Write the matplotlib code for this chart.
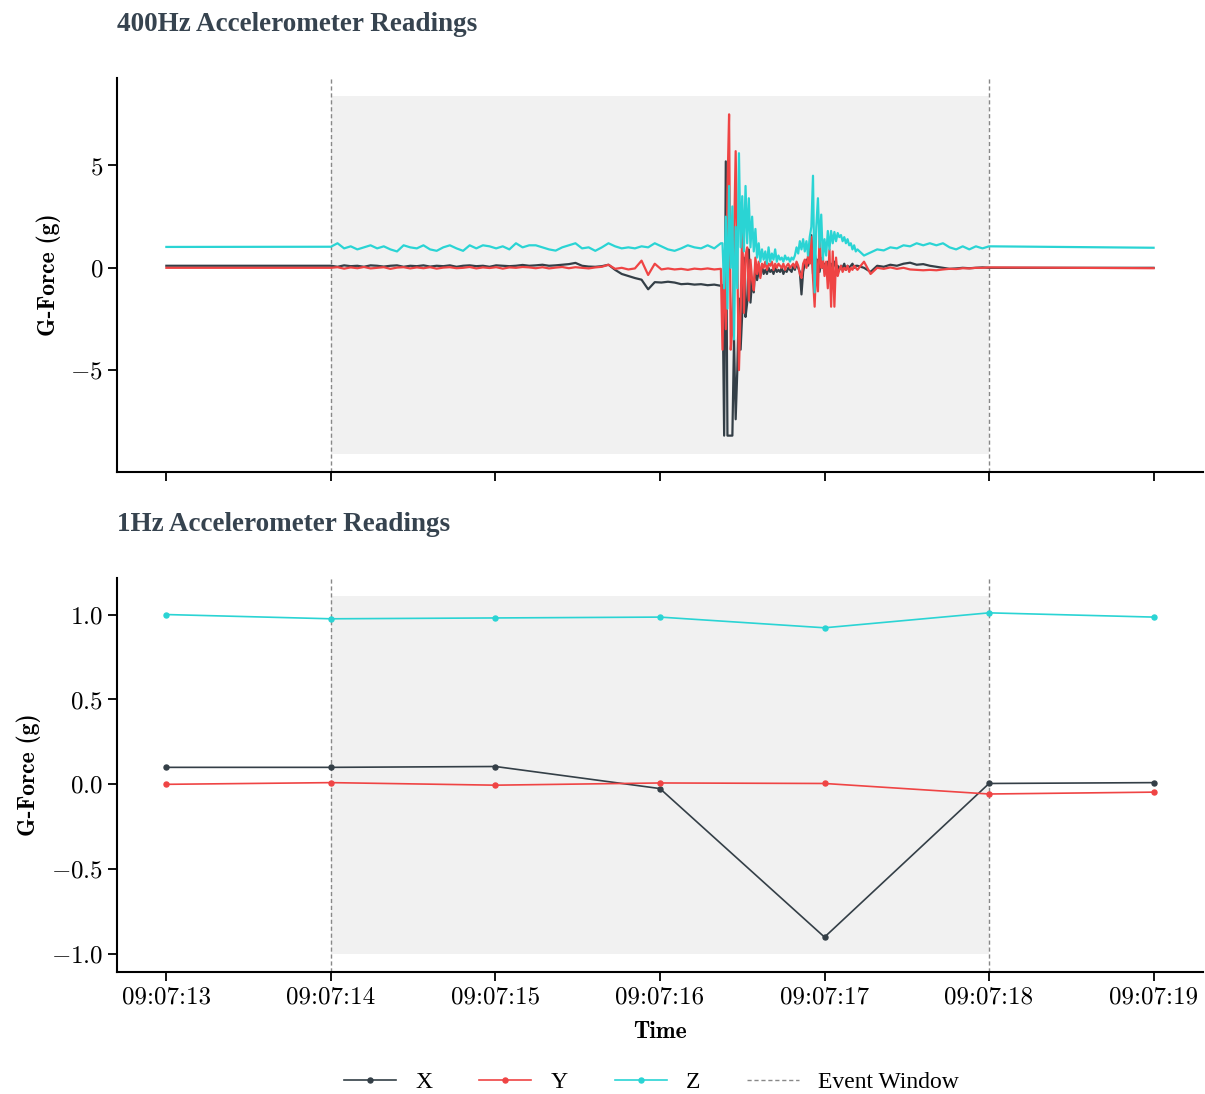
import numpy as np
import matplotlib
matplotlib.use("Agg")
import matplotlib.pyplot as plt
from matplotlib.lines import Line2D

plt.rcParams['font.family'] = 'cmr10'
plt.rcParams['mathtext.fontset'] = 'cm'
plt.rcParams['axes.formatter.use_mathtext'] = True

# colours
C_X = '#343f47'
C_Y = '#ef4444'
C_Z = '#2ad4d4'
C_TITLE = '#36434f'

# time axis (seconds past 09:07:00)
tick_secs = [13, 14, 15, 16, 17, 18, 19]
tick_labels = ['09:07:13', '09:07:14', '09:07:15', '09:07:16',
               '09:07:17', '09:07:18', '09:07:19']
event_start, event_end = 14, 18

# ---------------- 1Hz readings ----------------
t_1hz = [13, 14, 15, 16, 17, 18, 19]
x_1hz = [0.10, 0.10, 0.105, -0.025, -0.90, 0.005, 0.01]
y_1hz = [0.0, 0.01, -0.005, 0.008, 0.005, -0.057, -0.046]
z_1hz = [1.0, 0.975, 0.98, 0.985, 0.922, 1.01, 0.985]

# ---------------- 400Hz readings ----------------
# edges outside the event window
t_edges = [13, 19]
x_edges = [0.10, 0.0]
y_edges = [0.0, -0.02]
z_edges = [1.02, 0.98]

# quiet part 14.00 -> 16.37 s
x_a = [0.1, 0.05, 0.12, 0.08, 0.1, 0.05, 0.12, 0.1, 0.06, 0.1,
       0.12, 0.05, 0.1, 0.08, 0.12, 0.06, 0.1, 0.08, 0.12, 0.05,
       0.1, 0.12, 0.08, 0.1, 0.05, 0.12, 0.1, 0.08, 0.1, 0.14,
       0.1, 0.12, 0.15, 0.1, 0.12, 0.15, 0.18, 0.24, 0.1, 0.06,
       0.05, 0.08, 0.15, -0.1, -0.3, -0.4, -0.5, -0.58, -1.05, -0.7,
       -0.72, -0.68, -0.72, -0.8, -0.78, -0.82, -0.8, -0.85, -0.82, -0.88]
y_a = [0.0, 0.03, -0.04, 0.02, -0.02, 0.04, -0.03, 0.0, 0.03, -0.05,
       0.01, 0.03, -0.03, 0.02, -0.02, 0.03, -0.04, 0.01, 0.03, -0.02,
       0.0, 0.04, -0.03, 0.02, -0.01, 0.03, -0.04, 0.02, 0.0, 0.04,
       0.02, -0.02, 0.03, -0.03, 0.01, 0.04, -0.02, 0.03, 0.0, -0.03,
       0.02, 0.05, 0.15, -0.05, 0.0, -0.08, -0.03, 0.35, -0.35, 0.2,
       -0.08, -0.03, -0.08, -0.05, -0.1, -0.04, -0.07, -0.03, -0.08, -0.05]
z_a = [1.03, 1.2, 0.95, 1.05, 0.9, 1.0, 1.1, 0.95, 1.05, 0.9,
       0.8, 1.1, 1.0, 0.95, 1.1, 0.9, 0.83, 1.0, 1.1, 0.95,
       0.83, 1.1, 0.95, 1.1, 1.05, 0.95, 1.05, 0.9, 1.2, 1.0,
       1.1, 1.1, 1.0, 0.9, 0.84, 1.0, 1.1, 1.2, 0.95, 1.0,
       0.83, 1.0, 1.2, 1.05, 0.95, 1.0, 0.95, 1.05, 1.0, 1.2,
       1.05, 0.9, 0.83, 0.95, 1.1, 1.0, 0.95, 1.1, 0.95, 1.2]

# impact burst 16.38 -> 17.20 s
x_b = [-0.85, -8.2, 5.2, -8.2, -8.2, -8.2, -8.2, -3.5, -7.4, -5.0,
       -1.5, -4.0, -2.2, 0.5, -2.4, -1.7, 0.9, -1.7, -0.6, -1.2,
       0.2, -0.6, -0.2, -0.4, 0.1, -0.3, -0.1, -0.3, 0.0, -0.2,
       -0.1, -0.3, 0.0, -0.2, -0.1, -0.2, 0.0, -0.3, -0.1, -0.2,
       0.0, -0.1, -0.2, 0.1, -0.1, 0.2, 0.0, -0.2, -1.3, -0.2,
       0.2, 0.4, 0.1, 0.5, 1.6, -0.3, 0.8, 0.1, 0.4, -0.2,
       0.3, 0.0, 0.2, -0.1, 0.3, 0.0, 0.2, 0.0, 0.3, 0.0,
       0.1, -0.1, 0.1, 0.0, 0.2, -0.1, 0.1, 0.0, 0.1, 0.2,
       0.0, 0.1, 0.1]
y_b = [-4.0, 0.5, -3.0, 3.8, 7.5, -4.0, -3.0, 1.5, 5.7, 0.5,
       -5.0, -2.0, 2.0, -2.2, 0.6, 1.0, -1.6, 0.4, -0.6, -1.1,
       0.5, -0.3, 0.3, -0.5, 0.2, 0.0, 0.3, -0.1, 0.2, 0.1,
       0.3, -0.1, 0.2, 0.0, 0.2, 0.1, 0.0, 0.2, -0.1, 0.1,
       0.2, 0.0, 0.1, 0.2, 0.0, 0.3, 0.1, -0.3, -0.5, 0.2,
       0.4, 0.0, 0.6, 0.2, 1.5, -0.5, -1.9, 0.4, -1.15, 1.6,
       0.0, 0.5, -0.4, 0.3, -1.0, 0.9, -1.9, 0.8, -1.9, 0.5,
       -0.4, -0.1, 0.1, -0.2, 0.0, -0.1, 0.1, -0.2, 0.0, -0.1,
       0.1, 0.0, -0.1]
z_b = [1.2, -1.0, 2.5, -2.0, 4.0, 0.0, 3.0, -3.5, 2.0, -1.0,
       5.6, 1.0, 3.5, 0.8, 4.0, 1.2, 3.4, 1.0, 2.5, 0.8,
       1.9, 0.5, 1.2, 0.3, 0.9, 0.4, 0.8, 0.2, 1.0, 0.3,
       0.7, 0.4, 0.9, 0.3, 0.6, 0.4, 0.5, 0.3, 0.6, 0.4,
       0.5, 0.3, 0.5, 0.4, 0.6, 1.0, 0.7, 1.3, 0.9, 1.4,
       0.8, 1.3, 0.6, 1.5, 2.0, 4.5, -1.2, 2.0, 3.4, 1.0,
       2.6, 0.4, 1.4, 0.6, 1.8, 0.9, 1.8, 1.2, 1.75, 1.3,
       1.7, 1.5, 1.6, 1.3, 1.5, 1.2, 1.4, 1.1, 1.2, 0.9,
       1.1, 0.8, 0.9]

# settling 17.24 -> 18.00 s
x_c = [0.0, -0.2, 0.1, 0.05, 0.15, 0.1, 0.2, 0.25, 0.15, 0.18,
       0.1, 0.05, 0.0, -0.05, -0.03, 0.0, -0.02, 0.0, 0.02, 0.0]
y_c = [0.3, -0.3, 0.0, -0.05, 0.02, -0.05, 0.0, -0.08, -0.1, -0.12,
       -0.1, -0.12, -0.08, -0.05, -0.06, -0.02, -0.03, 0.0, 0.0, 0.02]
z_c = [0.6, 0.75, 0.9, 0.85, 1.0, 0.95, 1.1, 1.05, 1.2, 1.1,
       1.2, 1.1, 1.2, 1.0, 0.9, 1.05, 0.9, 1.05, 0.95, 1.05]

# shaded event band limits
shade_400 = (-9.1, 8.4)
shade_1hz = (-1.0, 1.11)


def build(a, b, c, edges):
    t = np.concatenate([[t_edges[0]],
                        np.linspace(14.0, 16.37, len(a)),
                        np.linspace(16.38, 17.20, len(b)),
                        np.linspace(17.24, 18.0, len(c)),
                        [t_edges[1]]])
    v = np.concatenate([[edges[0]], a, b, c, [edges[1]]])
    return t, v


fig = plt.figure(figsize=(12.05, 10.94), dpi=100)
ax1 = fig.add_axes([0.0971, 0.5686, 0.9012, 0.3601])
ax2 = fig.add_axes([0.0971, 0.1115, 0.9012, 0.3602], sharex=ax1)

for ax, shade in ((ax1, shade_400), (ax2, shade_1hz)):
    ax.fill_between([event_start, event_end], shade[0], shade[1],
                    color='#f1f1f1', lw=0, zorder=0)
    for t in (event_start, event_end):
        ax.axvline(t, color='#888888', lw=1.0, ls=(0, (3, 2)), zorder=1)

for a, b, c, e, col in ((x_a, x_b, x_c, x_edges, C_X),
                        (y_a, y_b, y_c, y_edges, C_Y),
                        (z_a, z_b, z_c, z_edges, C_Z)):
    t, v = build(a, b, c, e)
    ax1.plot(t, v, color=col, lw=1.6, zorder=3)

for vals, col in ((x_1hz, C_X), (y_1hz, C_Y), (z_1hz, C_Z)):
    ax2.plot(t_1hz, vals, color=col, lw=1.2, marker='o', ms=3.6, zorder=3)

for ax in (ax1, ax2):
    ax.spines['top'].set_visible(False)
    ax.spines['right'].set_visible(False)
    for s in ('left', 'bottom'):
        ax.spines[s].set_linewidth(1.5)
    ax.tick_params(axis='both', length=6.5, width=1.3, labelsize=18)
    ax.set_ylabel('G-Force (g)', fontfamily='cmb10', fontsize=17,
                  labelpad=7)

ax1.set_yticks([-5, 0, 5])
ax2.set_yticks([-1.0, -0.5, 0.0, 0.5, 1.0])
ax2.set_xticks(tick_secs)
ax2.set_xticklabels(tick_labels)
plt.setp(ax1.get_xticklabels(), visible=False)
ax2.set_xlabel('Time', fontfamily='cmb10', fontsize=17, labelpad=9)

ax1.set_title('400Hz Accelerometer Readings', loc='left', pad=34,
              fontfamily='Liberation Serif', fontweight='bold',
              fontsize=19.5, color=C_TITLE)
ax2.set_title('1Hz Accelerometer Readings', loc='left', pad=34,
              fontfamily='Liberation Serif', fontweight='bold',
              fontsize=19.5, color=C_TITLE)

handles = [Line2D([], [], color=C_X, lw=1.2, marker='o', ms=3.6),
           Line2D([], [], color=C_Y, lw=1.2, marker='o', ms=3.6),
           Line2D([], [], color=C_Z, lw=1.2, marker='o', ms=3.6),
           Line2D([], [], color='#888888', lw=1.0, ls=(0, (3, 2)))]
fig.legend(handles, ['X', 'Y', 'Z', 'Event Window'], loc='center',
           bbox_to_anchor=(0.5407, 0.0105), ncol=4, frameon=False,
           prop={'family': 'Liberation Serif', 'size': 17},
           handlelength=2.2, handletextpad=0.8, columnspacing=2.0)

fig.savefig('out.png', dpi=100)
